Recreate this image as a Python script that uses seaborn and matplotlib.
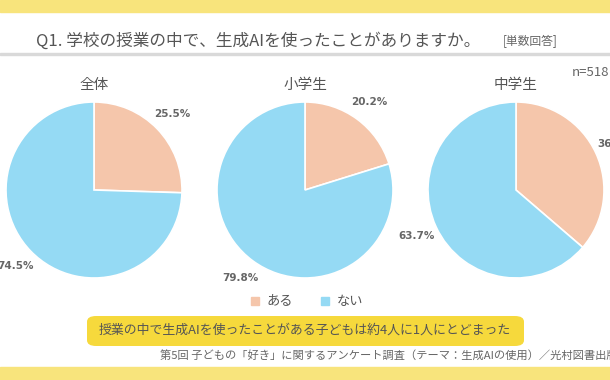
import matplotlib
matplotlib.use("Agg")
import matplotlib.pyplot as plt
import seaborn as sns
from matplotlib.patches import Rectangle, FancyBboxPatch

sns.set_theme(style="white")
plt.rcParams['font.family'] = ['Noto Sans CJK JP', 'DejaVu Sans']

groups = ["全体", "小学生", "中学生"]
categories = ["ある", "ない"]
values = {
    "全体": [25.5, 74.5],
    "小学生": [20.2, 79.8],
    "中学生": [36.3, 63.7],
}
colors = ["#F5C6AB", "#95DAF4"]

W, H = 610, 380
fig = plt.figure(figsize=(W / 100, H / 100), dpi=100)
fig.patch.set_facecolor("white")

def px(x, y):
    return x / W, 1 - y / H

# background bands
fig.add_artist(Rectangle((0, 1 - 12 / H), 1, 12 / H, transform=fig.transFigure,
                         color="#F8E47C", zorder=0))
fig.add_artist(Rectangle((0, 0), 1, 13 / H, transform=fig.transFigure,
                         color="#F8E47C", zorder=0))
fig.add_artist(Rectangle((0, 1 - 55 / H), 1, 2 / H, transform=fig.transFigure,
                         color="#D9D9D9", zorder=0))

# title
fig.text(*px(36, 41), "Q1. 学校の授業の中で、生成AIを使ったことがありますか。",
         fontsize=12, color="#555555", va="center", ha="left")
fig.text(*px(503, 41), "[単数回答]", fontsize=8.5, color="#666666", va="center", ha="left")
fig.text(*px(609, 72), "n=518", fontsize=9.5, color="#666666", va="center", ha="right")

R = 88
centers = [(94, 190), (305, 190), (516, 190)]
for g, (cx, cy) in zip(groups, centers):
    ax = fig.add_axes([(cx - R) / W, (H - cy - R) / H, 2 * R / W, 2 * R / H])
    wedges, texts, autotexts = ax.pie(
        values[g], colors=colors, startangle=90, counterclock=False,
        autopct=lambda p: f"{p:.1f}%", pctdistance=1.24,
        wedgeprops=dict(edgecolor="white", linewidth=1.2),
        textprops=dict(fontsize=7.5, color="#666666", fontweight="bold",
                       family=["DejaVu Sans"]),
    )
    ax.set_xlim(-1, 1)
    ax.set_ylim(-1, 1)
    ax.set_aspect("equal")
    ax.axis("off")
    for t in autotexts:
        t.set_clip_on(False)
    fig.text(*px(cx, 85), g, fontsize=10.5, color="#555555", ha="center", va="center")

# legend
for (lx, tx), cat, col in zip([(255, 267), (325, 337)], categories, colors):
    fig.add_artist(Rectangle(px(lx - 4, 305), 8 / W, 8 / H, transform=fig.transFigure,
                             color=col))
    fig.text(*px(tx, 301), cat, fontsize=9.5, color="#555555", ha="left", va="center")

# highlight box
box = FancyBboxPatch(px(87, 346), (524 - 87) / W, 30 / H,
                     boxstyle="round,pad=0,rounding_size=0.015",
                     transform=fig.transFigure, facecolor="#F6D93C", edgecolor="none")
fig.add_artist(box)
fig.text(*px(305, 330), "授業の中で生成AIを使ったことがある子どもは約4人に1人にとどまった",
         fontsize=9.3, color="#555555", ha="center", va="center")

fig.text(*px(160, 355), "第5回 子どもの「好き」に関するアンケート調査（テーマ：生成AIの使用）／光村図書出版",
         fontsize=8.1, color="#666666", ha="left", va="center")

fig.savefig("out.png", dpi=100, facecolor="white")
